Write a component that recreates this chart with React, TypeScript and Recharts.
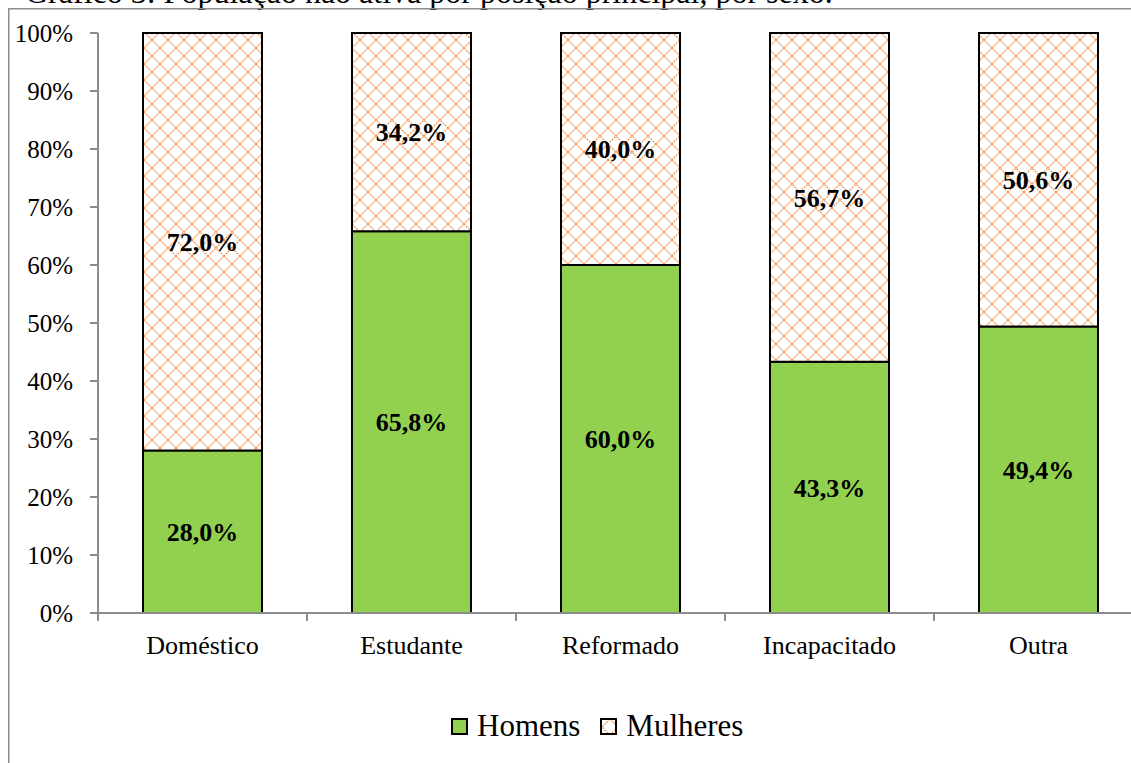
import React from 'react';
import { Bar, BarChart, LabelList, Legend, XAxis, YAxis } from 'recharts';

const categories = ['Doméstico', 'Estudante', 'Reformado', 'Incapacitado', 'Outra'];
const homens = [28.0, 65.8, 60.0, 43.3, 49.4];
const mulheres = [72.0, 34.2, 40.0, 56.7, 50.6];
const yTicks = [0, 10, 20, 30, 40, 50, 60, 70, 80, 90, 100];

const data = categories.map((name, i) => ({ name, homens: homens[i], mulheres: mulheres[i] }));

const FONT = '"Liberation Serif", "Times New Roman", serif';
const AXIS_GRAY = '#8c8c8c';
const GREEN = '#92D050';
const ORANGE = '#F0904A';

const fmt = (v: any) => `${Number(v).toFixed(1).replace('.', ',')}%`;

function CategoryTick(props: any) {
  const { x, y, payload, index } = props;
  const half = Number(payload?.offset) || 104.5;
  const last = index === categories.length - 1;
  return (
    <g>
      <line x1={x - half} x2={x - half} y1={y} y2={y + 8} stroke={AXIS_GRAY} strokeWidth={2} />
      {last ? <line x1={x + half} x2={x + half} y1={y} y2={y + 8} stroke={AXIS_GRAY} strokeWidth={2} /> : null}
      <text x={x} y={y + 41} textAnchor="middle" fill="#000" fontSize={26} fontFamily={FONT}>
        {payload.value}
      </text>
    </g>
  );
}

function LegendContent() {
  const item = (label: string, swatch: React.ReactNode) => (
    <div style={{ display: 'flex', alignItems: 'center', marginRight: 20 }}>
      <svg width={17} height={17} style={{ marginRight: 9 }}>
        {swatch}
      </svg>
      <span style={{ fontFamily: FONT, fontSize: 31, color: '#000', lineHeight: '36px' }}>{label}</span>
    </div>
  );
  return (
    <div style={{ display: 'flex', alignItems: 'center' }}>
      {item('Homens', <rect x={1} y={1} width={15} height={15} fill={GREEN} stroke="#000" strokeWidth={2} />)}
      {item(
        'Mulheres',
        <>
          <defs>
            <pattern id="legendPat" width={16} height={16} patternUnits="userSpaceOnUse" x={-6} y={1}>
              <rect width={16} height={16} fill="#fff" />
              <path d="M0,0 L16,16 M16,0 L0,16" stroke={ORANGE} strokeWidth={1.2} strokeDasharray="2 1" />
            </pattern>
          </defs>
          <rect x={1} y={1} width={15} height={15} fill="url(#legendPat)" stroke="#000" strokeWidth={2} />
        </>
      )}
    </div>
  );
}

export default function App() {
  return (
    <div style={{ position: 'absolute', left: 0, top: 0, width: 1131, height: 763, overflow: 'hidden', background: '#fff' }}>
      <svg width={1131} height={763} style={{ position: 'absolute', left: 0, top: 0 }}>
        <text x={25} y={3} fontSize={32} fontFamily={FONT} fill="#000">
          Gráfico 3: População não ativa por posição principal, por sexo.
        </text>
        <path d="M8.75,780 L8.75,8.75 L1140,8.75" fill="none" stroke={AXIS_GRAY} strokeWidth={1.5} />
      </svg>
      <div style={{ position: 'absolute', left: 0, top: 0 }}>
        <BarChart
          width={1170}
          height={763}
          data={data}
          margin={{ top: 33, right: 27, bottom: 90, left: 0 }}
        >
          <defs>
            <pattern id="mulheresPattern" width={16} height={16} patternUnits="userSpaceOnUse">
              <rect width={16} height={16} fill="#fff" />
              <path d="M0,0 L16,16 M16,0 L0,16" stroke={ORANGE} strokeWidth={1.2} strokeDasharray="2 1" />
            </pattern>
          </defs>
          <XAxis
            dataKey="name"
            interval={0}
            height={60}
            tickSize={0}
            tickMargin={0}
            tickLine={false}
            axisLine={{ stroke: AXIS_GRAY, strokeWidth: 2 }}
            tick={<CategoryTick />}
          />
          <YAxis
            domain={[0, 100]}
            ticks={yTicks}
            width={98}
            tickSize={8}
            tickMargin={17}
            tickFormatter={(v: number) => `${v}%`}
            tick={{ fill: '#000', fontSize: 25, fontFamily: FONT }}
            tickLine={{ stroke: AXIS_GRAY, strokeWidth: 2 }}
            axisLine={{ stroke: AXIS_GRAY, strokeWidth: 2 }}
          />
          <Legend
            verticalAlign="middle"
            align="center"
            content={<LegendContent />}
            wrapperStyle={{ top: 708, left: 451, width: 'auto', height: 36 }}
          />
          <Bar dataKey="homens" name="Homens" stackId="s" fill={GREEN} stroke="#000" strokeWidth={2} barSize={119} isAnimationActive={false}>
            <LabelList dataKey="homens" position="center" formatter={fmt} fill="#000" fontSize={26} fontWeight="bold" fontFamily={FONT} />
          </Bar>
          <Bar dataKey="mulheres" name="Mulheres" stackId="s" fill="url(#mulheresPattern)" stroke="#000" strokeWidth={2} barSize={119} isAnimationActive={false}>
            <LabelList dataKey="mulheres" position="center" formatter={fmt} fill="#000" fontSize={26} fontWeight="bold" fontFamily={FONT} />
          </Bar>
        </BarChart>
      </div>
    </div>
  );
}
